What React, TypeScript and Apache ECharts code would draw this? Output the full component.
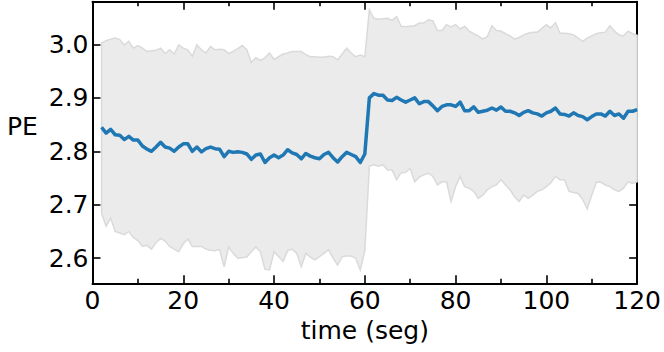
import React, { useEffect, useRef } from "react";
import * as echarts from "echarts";

// time axis (seg)
const times: number[] = Array.from({ length: 119 }, (_, i) => i + 2);

// mean PE per time step (t = 2..120)
const meanPE: number[] = [
  2.845, 2.834, 2.841, 2.831, 2.830, 2.822, 2.828, 2.821, 2.821, 2.810,
  2.804, 2.800, 2.808, 2.817, 2.808, 2.806, 2.800, 2.808, 2.814, 2.814,
  2.800, 2.808, 2.799, 2.805, 2.808, 2.805, 2.804, 2.790, 2.800, 2.798,
  2.799, 2.798, 2.795, 2.785, 2.793, 2.795, 2.779, 2.788, 2.793, 2.788,
  2.793, 2.803, 2.797, 2.794, 2.786, 2.796, 2.791, 2.788, 2.786, 2.794,
  2.798, 2.788, 2.780, 2.790, 2.798, 2.794, 2.790, 2.779, 2.795, 2.900,
  2.908, 2.905, 2.905, 2.896, 2.895, 2.901, 2.896, 2.892, 2.896, 2.900,
  2.889, 2.893, 2.893, 2.885, 2.876, 2.884, 2.887, 2.887, 2.884, 2.892,
  2.876, 2.876, 2.883, 2.873, 2.875, 2.877, 2.881, 2.877, 2.883, 2.875,
  2.875, 2.872, 2.867, 2.873, 2.876, 2.872, 2.870, 2.866, 2.872, 2.875,
  2.881, 2.870, 2.869, 2.866, 2.872, 2.867, 2.865, 2.859, 2.865, 2.870,
  2.870, 2.866, 2.875, 2.867, 2.870, 2.862, 2.875, 2.875, 2.878,
];

// upper edge of the spread band
const upperPE: number[] = [
  3.003, 3.007, 3.010, 3.012, 3.009, 2.999, 3.006, 2.993, 2.998, 2.993,
  2.987, 2.988, 2.989, 2.993, 2.983, 2.990, 2.982, 2.999, 2.993, 2.990,
  2.978, 2.999, 2.990, 2.984, 2.996, 2.990, 2.991, 2.990, 2.983, 2.987,
  2.992, 2.998, 2.990, 2.966, 2.975, 2.970, 2.975, 2.984, 2.972, 2.977,
  2.982, 2.984, 2.987, 2.987, 2.987, 2.981, 2.977, 2.977, 2.976, 2.976,
  2.978, 2.977, 2.971, 2.982, 2.993, 2.984, 2.977, 2.980, 2.977, 3.065,
  3.049, 3.047, 3.048, 3.049, 3.045, 3.052, 3.034, 3.033, 3.034, 3.035,
  3.040, 3.040, 3.046, 3.044, 3.026, 3.026, 3.037, 3.033, 3.037, 3.029,
  3.034, 3.025, 3.020, 3.016, 3.010, 3.015, 3.035, 3.026, 3.025, 3.020,
  3.016, 3.010, 3.013, 3.018, 3.021, 3.023, 3.023, 3.030, 3.037, 3.031,
  3.041, 3.021, 3.021, 3.020, 3.018, 3.012, 3.006, 3.012, 3.016, 3.020,
  3.022, 3.023, 3.035, 3.025, 3.018, 3.016, 3.025, 3.020, 3.017,
];

// lower edge of the spread band
const lowerPE: number[] = [
  2.684, 2.660, 2.675, 2.650, 2.647, 2.644, 2.650, 2.639, 2.633, 2.622,
  2.624, 2.617, 2.629, 2.637, 2.632, 2.622, 2.617, 2.612, 2.627, 2.636,
  2.622, 2.622, 2.622, 2.617, 2.615, 2.614, 2.616, 2.584, 2.621, 2.609,
  2.600, 2.601, 2.602, 2.612, 2.621, 2.612, 2.579, 2.578, 2.612, 2.603,
  2.594, 2.614, 2.617, 2.609, 2.584, 2.609, 2.602, 2.597, 2.603, 2.609,
  2.616, 2.600, 2.587, 2.603, 2.604, 2.604, 2.600, 2.578, 2.614, 2.772,
  2.775, 2.772, 2.775, 2.765, 2.765, 2.747, 2.760, 2.761, 2.768, 2.743,
  2.752, 2.756, 2.759, 2.753, 2.737, 2.743, 2.743, 2.706, 2.734, 2.753,
  2.734, 2.731, 2.725, 2.712, 2.718, 2.728, 2.734, 2.737, 2.747, 2.737,
  2.728, 2.715, 2.706, 2.718, 2.712, 2.718, 2.725, 2.728, 2.734, 2.741,
  2.753, 2.747, 2.747, 2.725, 2.723, 2.721, 2.710, 2.692, 2.718, 2.742,
  2.742, 2.737, 2.734, 2.728, 2.725, 2.731, 2.743, 2.740, 2.743,
];

const yTicks: number[] = [2.6, 2.7, 2.8, 2.9, 3.0];

const FONT = "DejaVu Sans";

export default function App() {
  const ref = useRef<HTMLDivElement>(null);

  useEffect(() => {
    if (!ref.current) return;
    const chart = echarts.init(ref.current, null, { renderer: "svg" });

    const tickStyle = { color: "#000", width: 1.6 };
    const xCommon = {
      type: "value",
      min: 0,
      max: 120,
      interval: 20,
      axisLine: { show: true, onZero: false, lineStyle: { color: "#000", width: 2 } },
      axisTick: { show: true, inside: true, length: 8, lineStyle: tickStyle },
      minorTick: { show: true, splitNumber: 2, length: 4.5, lineStyle: tickStyle },
      splitLine: { show: false },
      minorSplitLine: { show: false },
    };
    const yCommon = {
      type: "value",
      min: 2.553,
      max: 3.08,
      axisLine: { show: true, onZero: false, lineStyle: { color: "#000", width: 2 } },
      axisTick: { show: true, inside: true, length: 8, lineStyle: tickStyle, customValues: yTicks },
      splitLine: { show: false },
    };

    const bandData = times.map((t, i) => [t, meanPE[i]]);

    chart.setOption({
      animation: false,
      grid: { left: 92.5, right: 26.7, top: 1.7, bottom: 68.7, containLabel: false },
      xAxis: [
        {
          ...xCommon,
          position: "bottom",
          name: "time (seg)",
          nameLocation: "middle",
          nameGap: 30,
          nameTextStyle: { color: "#000", fontSize: 25, fontFamily: FONT },
          axisLabel: { show: true, color: "#000", fontSize: 25, fontFamily: FONT, margin: 5 },
        },
        {
          ...xCommon,
          position: "top",
          axisLabel: { show: false },
        },
      ],
      yAxis: [
        {
          ...yCommon,
          position: "left",
          axisLabel: {
            show: true,
            color: "#000",
            fontSize: 25,
            fontFamily: FONT,
            margin: 4,
            customValues: yTicks,
            formatter: (v: number) => v.toFixed(1),
          },
        },
        {
          ...yCommon,
          position: "right",
          axisLabel: { show: false },
        },
      ],
      graphic: [
        {
          type: "text",
          left: 7,
          top: 114,
          style: { text: "PE", fill: "#000", font: `25px "${FONT}"` },
        },
      ],
      series: [
        {
          type: "custom",
          xAxisIndex: 0,
          yAxisIndex: 0,
          clip: true,
          silent: true,
          data: [bandData[0]],
          encode: { x: 0, y: 1 },
          renderItem: (params: any, api: any) => {
            const pts: number[][] = [];
            for (let i = 0; i < times.length; i++) pts.push(api.coord([times[i], upperPE[i]]));
            for (let i = times.length - 1; i >= 0; i--) pts.push(api.coord([times[i], lowerPE[i]]));
            return {
              type: "polygon",
              shape: { points: pts },
              style: { fill: "#ebebeb", stroke: "#dadada", lineWidth: 1.5 },
            };
          },
          z: 1,
        },
        {
          type: "line",
          xAxisIndex: 0,
          yAxisIndex: 0,
          data: bandData,
          showSymbol: false,
          symbol: "none",
          lineStyle: { color: "#1f77b4", width: 3.5, join: "round", cap: "butt" },
          z: 3,
        },
      ],
    });

    return () => chart.dispose();
  }, []);

  return (
    <div
      ref={ref}
      style={{ position: "fixed", left: 0, top: 0, width: 664, height: 352, background: "#fff" }}
    />
  );
}
